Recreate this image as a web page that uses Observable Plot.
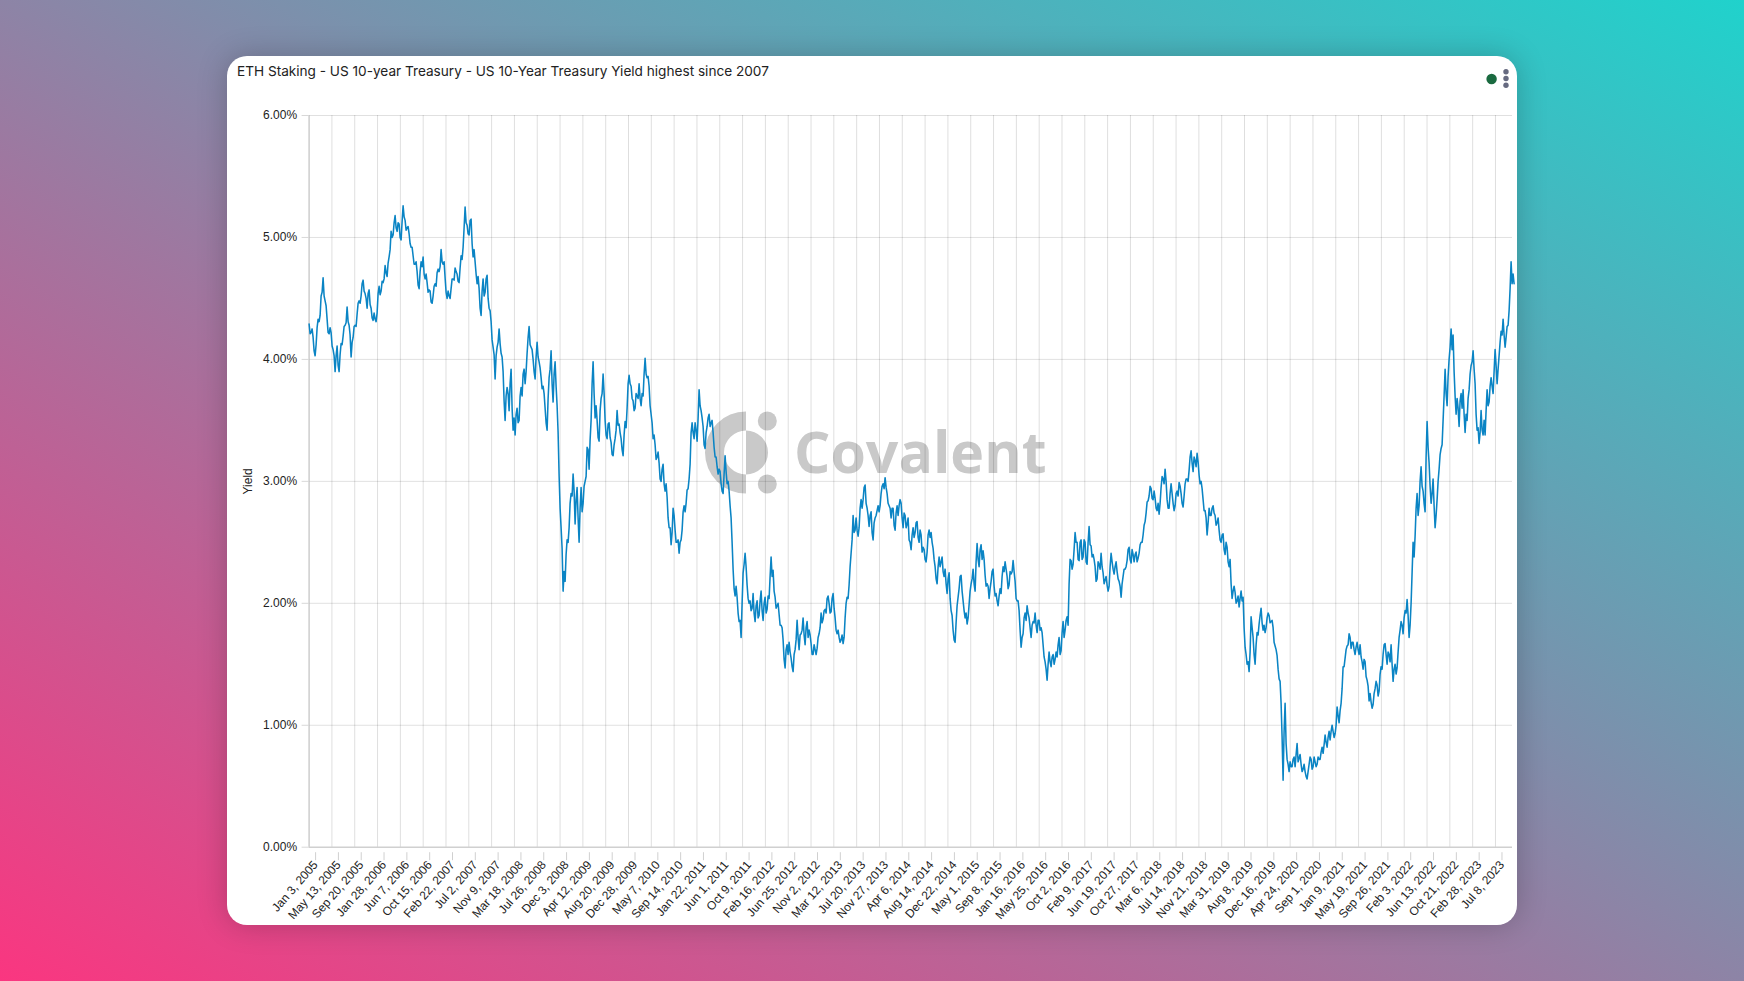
<!DOCTYPE html>
<html><head><meta charset="utf-8">
<script src="https://cdn.jsdelivr.net/npm/d3@7"></script>
<script src="https://cdn.jsdelivr.net/npm/@observablehq/plot@0.6"></script>
<style>
html,body{margin:0;padding:0;width:1744px;height:981px;overflow:hidden;background:linear-gradient(to top right,#fa3680 0%,#20d2cc 100%);}
#card{position:absolute;left:227px;top:56px;width:1290px;height:869px;background:#fff;border-radius:20px;box-shadow:0 0 30px rgba(0,0,0,.22);overflow:hidden;}
#title{position:absolute;left:10px;top:7px;font:13.62px Inter,"Liberation Sans",sans-serif;color:#222;white-space:nowrap;}
#mark,#plot,#menu{position:absolute;left:0;top:0;}
#plot svg{display:block;background:transparent;}
</style></head><body>
<div id="card">
<svg id="mark" width="1290" height="869">
  <g fill="#c9c9c9">
    <path d="M519 355.5a41 41 0 0 0 0 82v-19a22 22 0 0 1 0-44z"/>
    <path d="M519 374.5a22 22 0 0 1 0 44z"/>
    <circle cx="540.3" cy="365" r="9.5"/><circle cx="540.3" cy="428" r="9.5"/>
    <text x="567" y="417" font-family="'Open Sans'" font-weight="700" font-size="57.2">Covalent</text>
  </g>
</svg>
<div id="plot"></div>
<svg id="menu" width="1290" height="869">
  <circle cx="1264.6" cy="23" r="5.2" fill="#1a6a40"/>
  <g fill="#666a80"><circle cx="1279" cy="15.7" r="2.7"/><circle cx="1279" cy="22.5" r="2.7"/><circle cx="1279" cy="29.3" r="2.7"/></g>
</svg>
<div id="title">ETH Staking - US 10-year Treasury - US 10-Year Treasury Yield highest since 2007</div>
</div>
<script>
const tickLabels=["Jan 3, 2005","May 13, 2005","Sep 20, 2005","Jan 28, 2006","Jun 7, 2006","Oct 15, 2006","Feb 22, 2007","Jul 2, 2007","Nov 9, 2007","Mar 18, 2008","Jul 26, 2008","Dec 3, 2008","Apr 12, 2009","Aug 20, 2009","Dec 28, 2009","May 7, 2010","Sep 14, 2010","Jan 22, 2011","Jun 1, 2011","Oct 9, 2011","Feb 16, 2012","Jun 25, 2012","Nov 2, 2012","Mar 12, 2013","Jul 20, 2013","Nov 27, 2013","Apr 6, 2014","Aug 14, 2014","Dec 22, 2014","May 1, 2015","Sep 8, 2015","Jan 16, 2016","May 25, 2016","Oct 2, 2016","Feb 9, 2017","Jun 19, 2017","Oct 27, 2017","Mar 6, 2018","Jul 14, 2018","Nov 21, 2018","Mar 31, 2019","Aug 8, 2019","Dec 16, 2019","Apr 24, 2020","Sep 1, 2020","Jan 9, 2021","May 19, 2021","Sep 26, 2021","Feb 3, 2022","Jun 13, 2022","Oct 21, 2022","Feb 28, 2023","Jul 8, 2023"];
const yTicks=[0,1,2,3,4,5,6];
const firstDate="2005-01-03", lastDate="2023-10-13";
const daysPerSample=11.396;
const yields2005=[4.29,4.22,4.18,4.03,4.26,4.31,4.52,4.67,4.48,4.33,4.21,4.22,4.08,3.90,4.11,3.90,4.13,4.19,4.28,4.43,4.28,4.02,4.18,4.28,4.37,4.48,4.52,4.65,4.54,4.42,4.57,4.42,4.32,4.33,4.38,4.60,4.56,4.63,4.77,4.68,4.84,5.05,5.02,5.18,5.05,5.11,4.98,5.26,5.14,5.08,5.03,4.92,4.85,4.78,4.72,4.58,4.80,4.84,4.66,4.63,4.57,4.47,4.52,4.62,4.71,4.72,4.90,4.78,4.67,4.50,4.52,4.58,4.66,4.75,4.70,4.63];
const between2005=[4.21,4.25,4.07,4.12,4.33,4.36,4.55,4.52,4.44,4.22,4.26,4.11,4.03,4.03,3.95,4.04,4.12,4.27,4.30,4.31,4.20,4.14,4.27,4.27,4.46,4.46,4.62,4.56,4.50,4.54,4.45,4.34,4.38,4.31,4.54,4.53,4.64,4.66,4.71,4.79,4.90,5.00,5.12,5.08,5.12,5.00,5.13,5.17,5.06,5.09,4.95,4.92,4.78,4.80,4.61,4.72,4.76,4.70,4.70,4.55,4.56,4.46,4.60,4.60,4.74,4.76,4.80,4.80,4.55,4.56,4.50,4.66,4.65,4.72,4.64,4.75];
const yields2007=[4.85,4.92,5.25,5.10,5.02,5.15,4.84,4.80,4.62,4.58,4.36,4.66,4.55,4.69,4.42,4.31,4.10,3.84,4.10,4.25,4.05,3.90,3.50,3.77,3.58,3.92,3.42,3.38,3.60,3.50,3.77,3.88,3.80,4.05,4.27,4.10,4.00,3.84,4.14,3.98,3.85,3.78,3.60,3.42,3.85,4.07,3.65,3.98,3.62,3.05,2.62,2.10,2.18,2.52,2.62,2.90,3.06,2.65,2.95,2.50,2.95,2.82,3.00,3.28,3.10,3.50,3.98,3.52,3.50,3.33,3.68,3.88,3.50,3.35,3.48];
const between2007=[4.82,5.08,5.12,5.03,5.14,4.95,4.90,4.70,4.68,4.42,4.56,4.52,4.66,4.50,4.40,4.16,4.04,4.03,4.14,4.13,4.02,3.66,3.70,3.72,3.80,3.60,3.52,3.55,3.48,3.70,3.70,3.92,3.90,4.18,4.12,4.08,3.90,4.02,4.02,3.93,3.76,3.72,3.48,3.68,3.92,3.80,3.88,3.78,3.40,2.78,2.45,2.26,2.40,2.50,2.82,2.88,2.92,2.85,2.70,2.78,2.75,2.96,3.04,3.26,3.34,3.80,3.72,3.62,3.36,3.58,3.72,3.72,3.38,3.47,3.36];
const yields2009=[3.32,3.21,3.35,3.58,3.47,3.35,3.21,3.49,3.60,3.87,3.78,3.66,3.60,3.70,3.80,3.62,3.70,4.01,3.85,3.78,3.55,3.35,3.30,3.20,3.15,3.00,3.14,2.92,2.87,2.62,2.48,2.78,2.60,2.50,2.41,2.52,2.75,2.75,2.93,3.02,3.40,3.40,3.48,3.33,3.75,3.58,3.45,3.27,3.45,3.55,3.48,3.40,3.20,3.12,3.10,2.98,2.90,3.21,2.98,2.92,2.70,2.28,2.06,2.05,1.85,1.72,2.25,2.41,2.15,2.00,1.94,2.08,1.85,2.02,1.90];
const between2009=[3.22,3.30,3.42,3.46,3.40,3.26,3.38,3.44,3.80,3.80,3.68,3.58,3.72,3.68,3.68,3.72,3.88,3.88,3.86,3.62,3.48,3.38,3.18,3.24,3.02,3.10,2.98,2.98,2.70,2.62,2.58,2.72,2.50,2.52,2.50,2.60,2.80,2.82,2.94,3.14,3.48,3.35,3.42,3.52,3.62,3.52,3.30,3.40,3.52,3.45,3.50,3.28,3.20,3.06,3.08,2.92,3.06,3.08,3.00,2.80,2.50,2.12,2.14,1.92,1.86,2.00,2.32,2.30,2.04,2.02,1.96,1.92,1.98,1.88,2.02];
const yields2012=[2.10,1.86,2.05,1.95,2.04,2.38,2.27,2.05,1.98,1.91,1.82,1.70,1.47,1.66,1.68,1.55,1.44,1.62,1.86,1.62,1.75,1.88,1.66,1.85,1.78,1.67,1.58,1.62,1.63,1.75,1.92,1.87,1.95,2.04,2.00,1.93,2.08,1.88,1.75,1.72,1.70,1.67,1.88,2.05,2.15,2.41,2.72,2.60,2.60,2.62,2.85,2.85,2.97,2.78,2.63,2.75,2.52,2.70,2.76,2.75,2.90,2.98,3.03,2.90,2.80,2.70,2.78,2.60,2.80,2.80,2.82,2.62,2.72,2.65,2.52];
const between2012=[1.94,2.00,1.92,2.06,2.22,2.22,2.10,1.96,2.00,1.82,1.80,1.54,1.62,1.58,1.60,1.48,1.58,1.70,1.72,1.74,1.78,1.74,1.80,1.72,1.74,1.58,1.66,1.58,1.72,1.80,1.84,1.94,1.92,2.06,1.92,2.04,1.96,1.78,1.78,1.68,1.74,1.72,2.00,2.04,2.30,2.52,2.58,2.70,2.55,2.78,2.78,2.95,2.82,2.72,2.72,2.58,2.66,2.72,2.80,2.80,2.96,2.94,2.95,2.82,2.78,2.78,2.64,2.74,2.72,2.85,2.70,2.74,2.62,2.70,2.50];
const yields2014=[2.44,2.62,2.58,2.67,2.50,2.56,2.46,2.36,2.42,2.60,2.58,2.45,2.30,2.16,2.38,2.34,2.26,2.28,2.08,2.25,1.94,1.78,1.68,1.98,2.12,2.23,2.02,1.88,1.83,1.99,2.16,2.28,2.10,2.49,2.30,2.48,2.43,2.23,2.16,2.04,2.18,2.28,2.06,2.02,2.06,2.08,2.30,2.34,2.22,2.15,2.24,2.35,2.18,2.02,1.94,1.64,1.75,1.92,1.98,1.88,1.72,1.85,1.92,1.76,1.86,1.80,1.66,1.52,1.37,1.60,1.48,1.58,1.54,1.56,1.72];
const between2014=[2.56,2.54,2.66,2.54,2.60,2.42,2.44,2.34,2.56,2.54,2.50,2.36,2.20,2.30,2.30,2.38,2.22,2.16,2.20,2.04,1.90,1.70,1.84,2.05,2.22,2.10,1.94,1.92,1.88,2.10,2.20,2.16,2.34,2.36,2.44,2.36,2.36,2.14,2.14,2.12,2.26,2.14,2.08,1.98,2.12,2.22,2.26,2.28,2.12,2.26,2.26,2.26,2.04,2.02,1.78,1.72,1.88,1.86,1.92,1.80,1.82,1.84,1.82,1.86,1.78,1.76,1.56,1.46,1.50,1.52,1.56,1.50,1.60,1.66,1.58];
const yields2016=[1.61,1.85,1.78,1.89,2.16,2.35,2.32,2.58,2.50,2.35,2.52,2.38,2.50,2.32,2.63,2.47,2.40,2.30,2.20,2.32,2.41,2.25,2.19,2.15,2.14,2.41,2.28,2.30,2.26,2.18,2.05,2.22,2.28,2.35,2.46,2.33,2.40,2.40,2.34,2.41,2.50,2.56,2.67,2.83,2.88,2.94,2.85,2.86,2.76,2.73,2.95,3.02,3.10,2.85,2.78,2.98,2.82,2.80,2.92,2.99,2.90,2.79,2.98,3.02,3.09,3.25,3.08,3.17,3.23,3.05,3.00,2.85,2.76,2.56,2.78];
const between2016=[1.76,1.72,1.86,1.82,2.36,2.28,2.44,2.50,2.36,2.50,2.36,2.52,2.34,2.50,2.48,2.38,2.36,2.18,2.34,2.28,2.30,2.16,2.22,2.10,2.30,2.34,2.24,2.34,2.20,2.14,2.16,2.28,2.30,2.44,2.36,2.44,2.34,2.42,2.37,2.48,2.50,2.64,2.74,2.84,2.96,2.86,2.92,2.78,2.82,2.82,3.04,2.98,3.00,2.78,2.90,2.90,2.76,2.90,2.88,2.96,2.82,2.88,3.02,3.00,3.20,3.15,3.20,3.12,3.16,2.98,2.94,2.76,2.70,2.66,2.72];
const yields2019=[2.72,2.80,2.72,2.66,2.60,2.50,2.57,2.40,2.46,2.30,2.16,2.10,2.09,2.02,1.97,2.10,2.05,1.64,1.50,1.44,1.89,1.72,1.50,1.76,1.83,1.96,1.78,1.76,1.88,1.90,1.85,1.80,1.65,1.57,1.38,1.18,0.55,1.18,0.72,0.62,0.66,0.72,0.66,0.85,0.73,0.68,0.64,0.62,0.56,0.68,0.72,0.66,0.70,0.68,0.72,0.78,0.77,0.92,0.82,0.95,0.95,0.95,0.93,1.15,1.02,1.18,1.48,1.55,1.65,1.75,1.63,1.68,1.58,1.68,1.58];
const between2019=[2.78,2.74,2.64,2.70,2.52,2.56,2.44,2.50,2.34,2.36,2.04,2.14,2.00,2.06,2.04,2.02,1.80,1.58,1.52,1.60,1.80,1.58,1.66,1.74,1.90,1.84,1.82,1.80,1.92,1.84,1.86,1.68,1.62,1.46,1.36,0.90,0.95,0.85,0.68,0.70,0.66,0.74,0.76,0.70,0.76,0.62,0.68,0.58,0.62,0.74,0.64,0.74,0.66,0.74,0.72,0.82,0.84,0.86,0.90,0.88,1.00,0.90,1.00,1.08,1.12,1.30,1.48,1.62,1.66,1.72,1.68,1.62,1.64,1.62,1.66];
const yields2021=[1.56,1.46,1.52,1.37,1.20,1.19,1.17,1.30,1.33,1.28,1.48,1.58,1.67,1.50,1.58,1.66,1.36,1.50,1.47,1.72,1.85,1.75,1.94,2.03,1.72,2.00,2.50,2.55,2.90,2.80,3.12,2.92,2.75,3.49,3.15,2.82,3.02,2.62,2.85,3.10,3.27,3.50,3.92,3.62,4.00,4.25,4.20,3.70,3.68,3.45,3.72,3.75,3.40,3.50,3.75,3.95,4.07,3.80,3.42,3.31,3.58,3.38,3.38,3.75,3.65,3.85,3.72,4.08,3.80,4.03,4.23,4.33,4.10,4.27,4.40,4.80,4.70];
const between2021=[1.52,1.54,1.40,1.32,1.26,1.14,1.26,1.36,1.24,1.42,1.46,1.66,1.58,1.60,1.52,1.50,1.46,1.42,1.60,1.78,1.82,1.88,1.92,1.90,1.82,2.25,2.38,2.78,2.72,3.00,2.96,2.82,3.20,3.28,2.96,2.90,2.80,2.72,3.00,3.22,3.30,3.70,3.72,3.86,4.10,4.08,3.90,3.55,3.60,3.66,3.60,3.55,3.55,3.68,3.88,3.98,3.92,3.55,3.44,3.40,3.42,3.50,3.58,3.62,3.78,3.78,3.90,3.95,3.92,4.14,4.20,4.20,4.18,4.28,4.58,4.62,4.62];
const segments=[yields2005,yields2007,yields2009,yields2012,yields2014,yields2016,yields2019,yields2021];
const betweens=[between2005,between2007,between2009,between2012,between2014,between2016,between2019,between2021];
const segmentStart=[0,76,151,226,301,376,451,526];

const parse=d3.utcParse("%b %-d, %Y"), fmt=d3.utcFormat("%b %-d, %Y");
const t0=+new Date(firstDate+"T00:00Z");
const at=s=>new Date(t0+s*daysPerSample*864e5);
const series=segments.flatMap((vals,k)=>vals.flatMap((v,j)=>[
  {date:at(segmentStart[k]+j),value:v},
  {date:at(segmentStart[k]+j+.5),value:betweens[k][j]}
]));
const tickDates=tickLabels.map(parse);
const chart=Plot.plot({
  width:1290,height:869,marginLeft:81.6,marginRight:5,marginTop:59,marginBottom:78.3,
  style:{fontFamily:"'Liberation Sans',sans-serif",fontSize:"12px",background:"transparent",color:"#333"},
  x:{type:"utc",domain:[new Date(firstDate),new Date(lastDate)]},
  y:{domain:[0,6]},
  marks:[
    Plot.gridX(tickDates,{stroke:"#000",strokeOpacity:.13,strokeWidth:1}),
    Plot.gridY(yTicks,{stroke:"#000",strokeOpacity:.12,strokeWidth:1}),
    Plot.ruleX([tickDates[0]],{stroke:"#c4c4c4"}),
    Plot.ruleY([0],{stroke:"#c4c4c4"}),
    Plot.axisY(yTicks,{tickSize:7,tickPadding:5,stroke:"#d8d8d8",fill:"#222",tickFormat:d=>d.toFixed(2)+"%",label:"Yield",labelAnchor:"center",labelArrow:"none",labelOffset:65.5}),
    Plot.axisX(tickDates,{tickSize:8,tickPadding:2,tickRotate:-49,textAnchor:"end",stroke:"#d0d0d0",fill:"#222",tickFormat:fmt,label:null,dx:6.5,dy:5.5}),
    Plot.line(series,{x:"date",y:"value",stroke:"#0a84c4",strokeWidth:1.55,curve:"linear"})
  ]
});
document.getElementById("plot").append(chart);
</script>
</body></html>
